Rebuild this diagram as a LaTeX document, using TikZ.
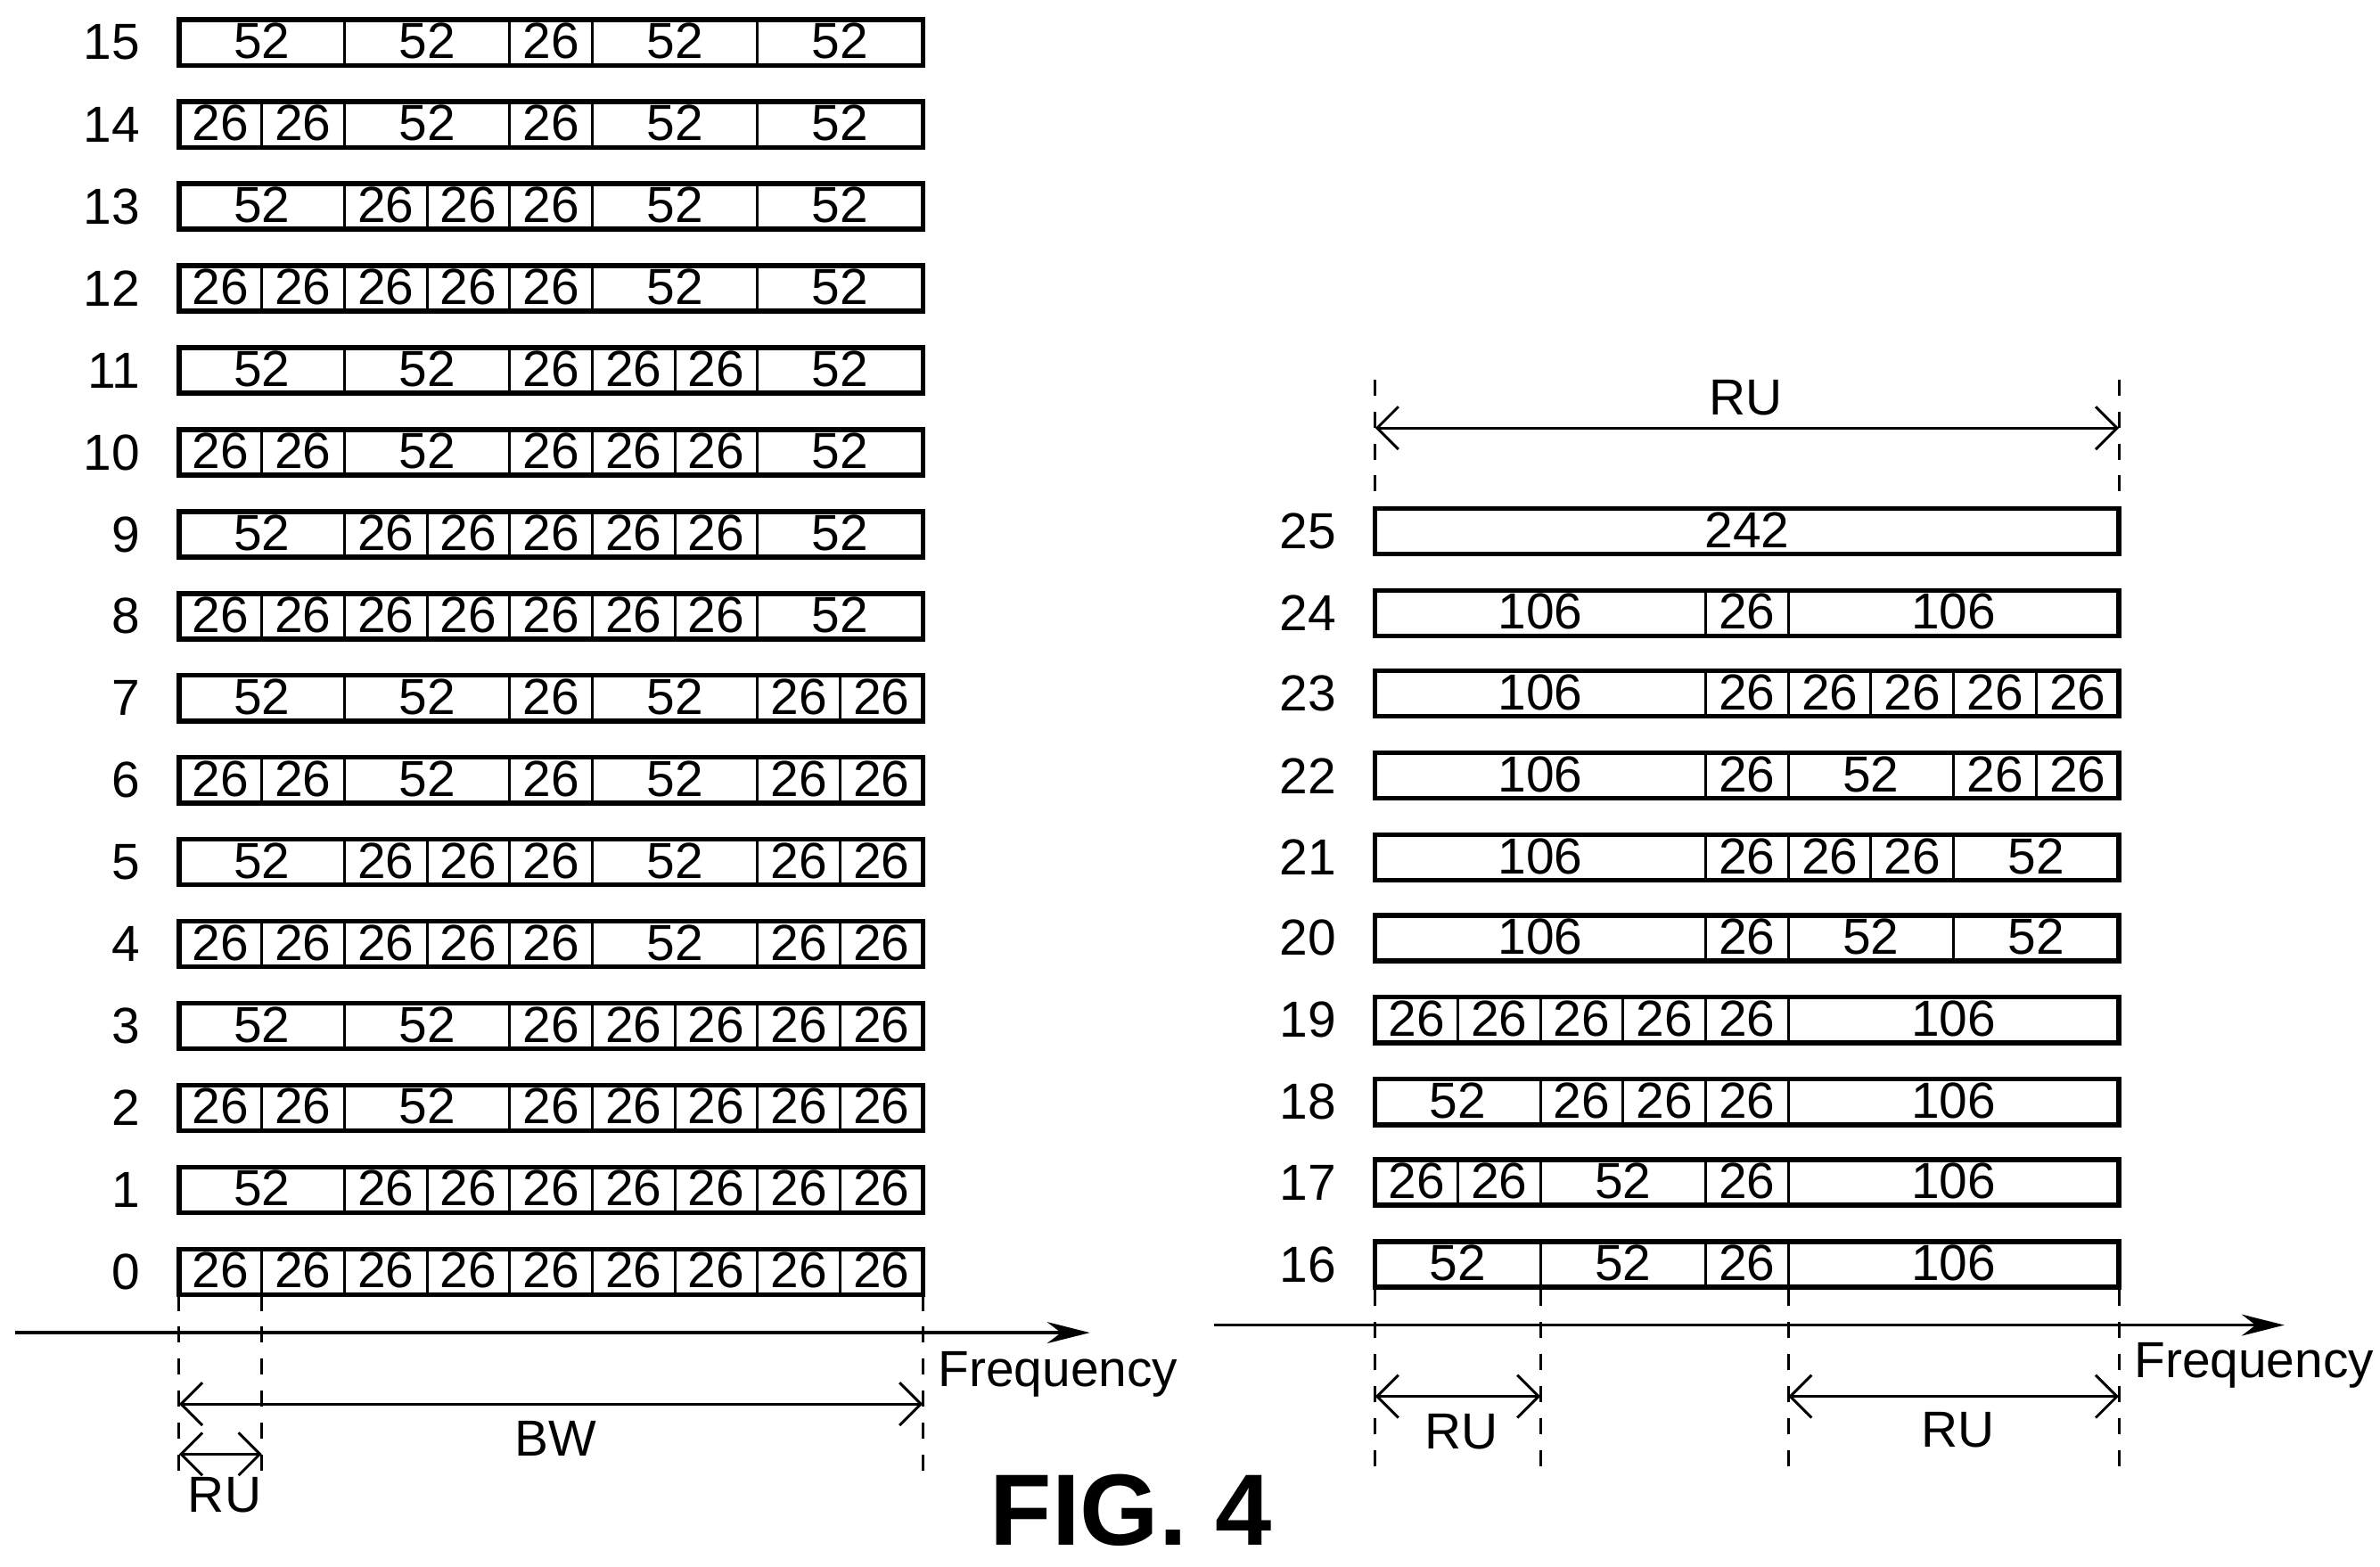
\documentclass[tikz,border=0pt]{standalone}
\usepackage{fontspec}
\setmainfont{Liberation Sans}
\usetikzlibrary{arrows.meta}
\tikzset{
  cell/.style={draw,line width=0.5pt},
  frame/.style={draw,line width=0.9pt},
  num/.style={font=\fontsize{9.5}{10}\selectfont,inner sep=0pt},
  rowno/.style={font=\fontsize{9.5}{10}\selectfont,anchor=east,inner sep=0pt},
  guide/.style={dashed,line width=0.5pt},
  span/.style={{Straight Barb[length=4pt]}-{Straight Barb[length=4pt]},line width=0.5pt},
  axis/.style={-{Stealth[length=8pt,width=4pt]},line width=0.6pt}
}
\def\unitw{0.5444}
% one allocation row: name, x0, y, list of widths in 26-tone units
\newcommand{\rurow}[4]{%
  \xdef\curx{#2}%
  \foreach \w in {#4} {
    \pgfmathsetmacro\nx{\curx+\w*\unitw}
    \draw[cell] (\curx,#3-0.15) rectangle (\nx,#3+0.15);
    \node[num] at ({(\curx+\nx)/2},#3+0.01) {\ifcase\w\or26\or52\or\or106\or\or\or\or\or242\fi};
    \xdef\curx{\nx}
  }
  \draw[frame] (#2,#3-0.15) rectangle (#2+9*\unitw,#3+0.15);
  \node[rowno] (#1) at (#2-0.25,#3) {#1};
}
\begin{document}
\begin{tikzpicture}
\useasboundingbox (0,0) rectangle (15.68,-10.32);
% left group
\rurow{0}{1.18}{-8.38}{1,1,1,1,1,1,1,1,1}
\rurow{1}{1.18}{-7.84}{2,1,1,1,1,1,1,1}
\rurow{2}{1.18}{-7.30}{1,1,2,1,1,1,1,1}
\rurow{3}{1.18}{-6.76}{2,2,1,1,1,1,1}
\rurow{4}{1.18}{-6.22}{1,1,1,1,1,2,1,1}
\rurow{5}{1.18}{-5.68}{2,1,1,1,2,1,1}
\rurow{6}{1.18}{-5.14}{1,1,2,1,2,1,1}
\rurow{7}{1.18}{-4.60}{2,2,1,2,1,1}
\rurow{8}{1.18}{-4.06}{1,1,1,1,1,1,1,2}
\rurow{9}{1.18}{-3.52}{2,1,1,1,1,1,2}
\rurow{10}{1.18}{-2.98}{1,1,2,1,1,1,2}
\rurow{11}{1.18}{-2.44}{2,2,1,1,1,2}
\rurow{12}{1.18}{-1.90}{1,1,1,1,1,2,2}
\rurow{13}{1.18}{-1.36}{2,1,1,1,2,2}
\rurow{14}{1.18}{-0.82}{1,1,2,1,2,2}
\rurow{15}{1.18}{-0.28}{2,2,1,2,2}
% right group
\rurow{16}{9.06}{-8.33}{2,2,1,4}
\rurow{17}{9.06}{-7.79}{1,1,2,1,4}
\rurow{18}{9.06}{-7.26}{2,1,1,1,4}
\rurow{19}{9.06}{-6.72}{1,1,1,1,1,4}
\rurow{20}{9.06}{-6.18}{4,1,2,2}
\rurow{21}{9.06}{-5.65}{4,1,1,1,2}
\rurow{22}{9.06}{-5.11}{4,1,2,1,1}
\rurow{23}{9.06}{-4.57}{4,1,1,1,1,1}
\rurow{24}{9.06}{-4.04}{4,1,4}
\rurow{25}{9.06}{-3.50}{9}
% frequency axes
\coordinate (la) at (0.10,-8.78);
\coordinate (lb) at (7.18,-8.78);
\draw[axis] (la) -- (lb);
\node[num,anchor=north] (lf) at (6.97,-8.90) {Frequency};
\coordinate (ra) at (8.00,-8.73);
\coordinate (rb) at (15.05,-8.73);
\draw[axis] (ra) -- (rb);
\node[num,anchor=north] (rf) at (14.85,-8.84) {Frequency};
% left guides
\coordinate (g1t) at (1.18,-8.53); \coordinate (g1b) at (1.18,-9.75);
\coordinate (g2t) at (1.18+\unitw,-8.53); \coordinate (g2b) at (1.18+\unitw,-9.75);
\coordinate (g3t) at (1.18+9*\unitw,-8.53); \coordinate (g3b) at (1.18+9*\unitw,-9.75);
\draw[guide] (g1t) -- (g1b);
\draw[guide] (g2t) -- (g2b);
\draw[guide] (g3t) -- (g3b);
\coordinate (bwl) at (1.18,-9.25); \coordinate (bwr) at (1.18+9*\unitw,-9.25);
\draw[span] (bwl) -- (bwr);
\node[num] (bw) at (3.66,-9.48) {BW};
\coordinate (rul) at (1.18,-9.58); \coordinate (rur) at (1.18+\unitw,-9.58);
\draw[span] (rul) -- (rur);
\node[num] (ru0) at (1.48,-9.85) {RU};
% right guides
\foreach \k/\u in {a/0,b/2,c/5,d/9} {
  \coordinate (h\k t) at (9.06+\u*\unitw,-8.50);
  \coordinate (h\k b) at (9.06+\u*\unitw,-9.75);
  \draw[guide] (h\k t) -- (h\k b);
}
\coordinate (s1l) at (9.06,-9.20); \coordinate (s1r) at (9.06+2*\unitw,-9.20);
\draw[span] (s1l) -- (s1r);
\node[num] (ru1) at (9.63,-9.43) {RU};
\coordinate (s2l) at (9.06+5*\unitw,-9.20); \coordinate (s2r) at (9.06+9*\unitw,-9.20);
\draw[span] (s2l) -- (s2r);
\node[num] (ru2) at (12.90,-9.42) {RU};
% top span
\coordinate (tlt) at (9.06,-2.50); \coordinate (tlb) at (9.06,-3.30);
\coordinate (trt) at (9.06+9*\unitw,-2.50); \coordinate (trb) at (9.06+9*\unitw,-3.30);
\draw[guide] (tlt) -- (tlb);
\draw[guide] (trt) -- (trb);
\coordinate (tsl) at (9.06,-2.82); \coordinate (tsr) at (9.06+9*\unitw,-2.82);
\draw[span] (tsl) -- (tsr);
\node[num] (ru3) at (11.50,-2.62) {RU};
\node[font=\fontsize{19}{20}\selectfont\bfseries,inner sep=0pt] (fig) at (7.45,-9.95) {FIG. 4};
\end{tikzpicture}
\end{document}
